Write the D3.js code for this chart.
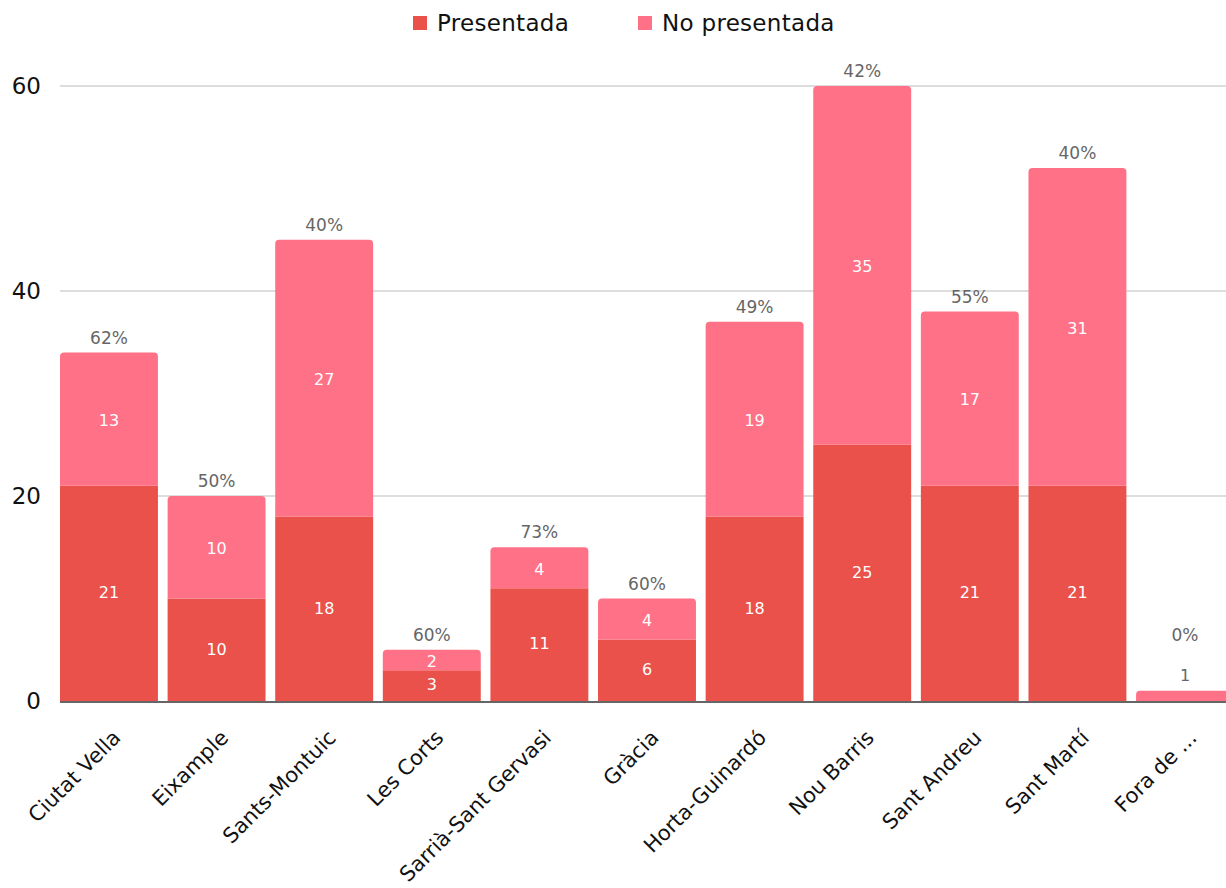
<!DOCTYPE html>
<html>
<head>
<meta charset="utf-8">
<script src="https://cdn.jsdelivr.net/npm/d3@7"></script>
<style>
  html, body { margin: 0; padding: 0; background: #fff; }
  svg { display: block; font-family: "DejaVu Sans", "Open Sans", sans-serif; }
</style>
</head>
<body>
<svg id="chart" width="1226" height="888"></svg>
<script>
const categories = ["Ciutat Vella", "Eixample", "Sants-Montuic", "Les Corts", "Sarrià-Sant Gervasi", "Gràcia", "Horta-Guinardó", "Nou Barris", "Sant Andreu", "Sant Martí", "Fora de ..."];
const presentada = [21, 10, 18, 3, 11, 6, 18, 25, 21, 21, 0];
const noPresentada = [13, 10, 27, 2, 4, 4, 19, 35, 17, 31, 1];
const seriesNames = ["Presentada", "No presentada"];
const yTicks = [0, 20, 40, 60];

(function () {
const colors = ["#E9514A", "#FF7186"];
const W = 1226, H = 888;
const mLeft = 60, mTop = 86, mBottom = 701;

const svg = d3.select("#chart");

const x = d3.scaleBand().domain(categories).range([mLeft, 1234]).paddingInner(0.09).paddingOuter(0);
const y = d3.scaleLinear().domain([0, 60]).range([mBottom, mTop]);

// gridlines
svg.append("g").selectAll("line").data(yTicks.filter(d => d > 0)).join("line")
  .attr("x1", mLeft).attr("x2", W)
  .attr("y1", d => y(d)).attr("y2", d => y(d))
  .attr("stroke", "#dddddd").attr("stroke-width", 2);

// y axis labels
svg.append("g").selectAll("text").data(yTicks).join("text")
  .attr("x", 41).attr("y", d => y(d)).attr("dy", "0.36em")
  .attr("text-anchor", "end").attr("font-size", 23).attr("fill", "#111")
  .text(d => d);

const data = categories.map((c, i) => ({ c, p: presentada[i], n: noPresentada[i], t: presentada[i] + noPresentada[i] }));

const r = 4;
function roundTopRect(x0, y0, w, h, rad) {
  rad = Math.min(rad, h, w / 2);
  return `M${x0},${y0 + h}V${y0 + rad}Q${x0},${y0} ${x0 + rad},${y0}H${x0 + w - rad}Q${x0 + w},${y0} ${x0 + w},${y0 + rad}V${y0 + h}Z`;
}

const bars = svg.append("g");
data.forEach(d => {
  const bx = x(d.c), bw = x.bandwidth();
  if (d.p > 0) {
    const y0 = y(d.p), h = y(0) - y(d.p);
    if (d.n > 0) {
      bars.append("rect").attr("x", bx).attr("y", y0).attr("width", bw).attr("height", h).attr("fill", colors[0]);
    } else {
      bars.append("path").attr("d", roundTopRect(bx, y0, bw, h, r)).attr("fill", colors[0]);
    }
  }
  if (d.n > 0) {
    const y0 = y(d.t), h = y(d.p) - y(d.t);
    bars.append("path").attr("d", roundTopRect(bx, y0, bw, h, r)).attr("fill", colors[1]);
  }
});

// axis line
svg.append("line").attr("x1", mLeft).attr("x2", W).attr("y1", mBottom + 1).attr("y2", mBottom + 1)
  .attr("stroke", "#666").attr("stroke-width", 2);

// value labels
const lab = svg.append("g").attr("font-size", 16).attr("text-anchor", "middle");
data.forEach(d => {
  const cx = x(d.c) + x.bandwidth() / 2;
  if (d.p > 0) {
    lab.append("text").attr("x", cx).attr("y", (y(0) + y(d.p)) / 2 - 1).attr("dy", "0.36em")
      .attr("fill", "#fff").text(d.p);
  }
  if (d.n > 0) {
    const hpx = y(d.p) - y(d.t);
    if (hpx >= 16) {
      lab.append("text").attr("x", cx).attr("y", (y(d.p) + y(d.t)) / 2 + 1).attr("dy", "0.36em")
        .attr("fill", "#fff").text(d.n);
    } else {
      lab.append("text").attr("x", cx).attr("y", y(d.t) - 16).attr("dy", "0.36em")
        .attr("fill", "#666").text(d.n);
    }
  }
  const pct = Math.round(d.p / d.t * 100) + "%";
  const ty = (y(d.p) - y(d.t) >= 16) ? y(d.t) - 15 : y(d.t) - 56;
  lab.append("text").attr("x", cx).attr("y", ty).attr("dy", "0.36em")
    .attr("fill", "#666").attr("font-size", 17).text(pct);
});

// x labels
svg.append("g").selectAll("text").data(categories).join("text")
  .attr("transform", d => `translate(${x(d) + x.bandwidth() / 2 + 13},${mBottom + 38}) rotate(-45)`)
  .attr("text-anchor", "end").attr("font-size", 21).attr("fill", "#111")
  .text(d => d);

// legend
const leg = svg.append("g").attr("font-size", 23);
const legX = [413, 638];
seriesNames.forEach((s, i) => {
  leg.append("rect").attr("x", legX[i]).attr("y", 16).attr("width", 14).attr("height", 14).attr("fill", colors[i]);
  leg.append("text").attr("x", legX[i] + 24).attr("y", 23).attr("dy", "0.36em").attr("fill", "#111")
    .attr("letter-spacing", 0.3).text(s);
});
})();
</script>
</body>
</html>
